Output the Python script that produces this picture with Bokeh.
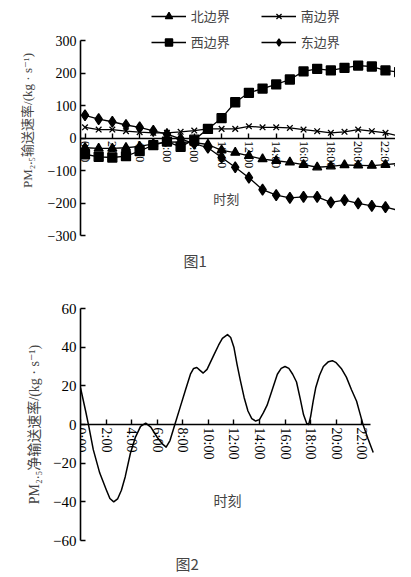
from bokeh.plotting import figure
from bokeh.models import Range1d, FixedTicker, Legend, LegendItem, Label, Title
from bokeh.layouts import column
from bokeh.embed import file_html
from bokeh.resources import INLINE

# ---------- Figure 1 data (hourly transport rates, kg/s) ----------
hours = [0, 1, 2, 3, 4, 5, 6, 7, 8, 9, 10, 11, 12, 13, 14, 15, 16, 17, 18, 19, 20, 21, 22, 23]
north = [-30, -32, -32, -30, -26, -18, -13, -12, -14, -20, -38, -45, -55, -65, -70, -75, -82, -90, -87, -83, -84, -85, -82, -78]
south = [33, 26, 26, 21, 18, 16, 16, 19, 23, 28, 28, 28, 36, 33, 33, 31, 26, 21, 16, 19, 26, 21, 16, 6]
west = [-50, -58, -60, -56, -40, -22, -11, -27, -5, 28, 61, 110, 139, 152, 165, 180, 205, 213, 208, 216, 223, 220, 208, 203]
east = [70, 58, 50, 40, 33, 22, 12, -3, -17, -30, -60, -90, -122, -159, -176, -184, -181, -181, -198, -191, -201, -209, -213, -223]
series_names = ["北边界", "南边界", "西边界", "东边界"]

fig1_yticks = [-300, -200, -100, 0, 100, 200, 300]
fig1_ytick_labels = ["−300", "−200", "−100", "0", "100", "200", "300"]
time_ticks = [0, 2, 4, 6, 8, 10, 12, 14, 16, 18, 20, 22]
time_tick_labels = ["0:00", "2:00", "4:00", "6:00", "8:00", "10:00", "12:00",
                    "14:00", "16:00", "18:00", "20:00", "22:00"]

# ---------- Figure 2 data (net transport rate) ----------
net_hours = [0, 0.4, 0.65, 1.0, 1.5, 2.0, 2.3, 2.6, 2.9, 3.2, 3.5, 3.9, 4.3, 4.7, 5.1, 5.5, 6.0,
             6.4, 6.7, 7.0, 7.4, 7.8, 8.2, 8.6, 8.85, 9.1, 9.35, 9.6, 9.9, 10.4, 10.8, 11.1,
             11.5, 11.75, 12.0, 12.25, 12.5, 12.8, 13.1, 13.4, 13.7, 14.0, 14.3, 14.6, 15.0,
             15.4, 15.7, 16.0, 16.3, 16.6, 16.9, 17.2, 17.45, 17.7, 17.85, 18.0, 18.2, 18.4,
             18.7, 19.0, 19.4, 19.7, 20.0, 20.4, 20.8, 21.2, 21.6, 21.85, 22.1, 22.5, 22.9]
net_values = [19, 7, -1, -13, -25, -33.5, -38.3, -40, -38.5, -34, -27, -15, -6.5, -1, 0.7, -1.4, -6.6,
              -10, -11.7, -8.3, 0.4, 9, 17.6, 26, 29, 29.5, 28, 26.6, 28.5, 35.5, 41, 44.5,
              46.5, 45, 40, 31, 23, 14, 7, 3, 1.8, 2.5, 6, 10, 18,
              26, 29, 30, 29, 26, 22, 13, 5, 0.5, 0, 4, 12, 19,
              25.5, 30, 32.5, 33, 32, 29, 24.5, 18, 12, 6, 0, -7.5, -14.5]
fig2_yticks = [-60, -40, -20, 0, 20, 40, 60]
fig2_ytick_labels = ["−60", "−40", "−20", "0", "20", "40", "60"]

SERIF = "Liberation Serif, DejaVu Serif, Noto Sans CJK SC"
CJK = "Noto Sans CJK SC"


def style_axes(p, xlab_size, ylab_size, xbounds, ybounds, yticks, ylabels, ylabel, ylabel_size, standoff):
    p.grid.visible = False
    p.outline_line_color = None
    p.background_fill_color = "white"
    xa = p.xaxis[0]
    xa.fixed_location = 0
    xa.ticker = FixedTicker(ticks=time_ticks)
    xa.major_label_overrides = dict(zip(time_ticks, time_tick_labels))
    xa.major_label_orientation = "vertical"
    xa.major_label_text_font = SERIF
    xa.major_label_text_font_size = xlab_size
    xa.major_label_standoff = 3
    xa.bounds = xbounds
    ya = p.yaxis[0]
    ya.ticker = FixedTicker(ticks=yticks)
    ya.major_label_overrides = dict(zip(yticks, ylabels))
    ya.major_label_text_font = SERIF
    ya.major_label_text_font_size = ylab_size
    ya.major_label_standoff = 4
    ya.bounds = ybounds
    ya.axis_label = ylabel
    ya.axis_label_text_font = SERIF
    ya.axis_label_text_font_style = "normal"
    ya.axis_label_text_font_size = ylabel_size
    ya.axis_label_standoff = standoff
    for ax in (xa, ya):
        ax.axis_line_width = 1.6
        ax.axis_line_color = "black"
        ax.major_tick_line_width = 1.4
        ax.major_tick_in = 5
        ax.major_tick_out = 0
        ax.minor_tick_line_color = None
        ax.major_label_text_color = "black"


# ---------------- Figure 1 ----------------
p1 = figure(frame_width=320, frame_height=230,
            x_range=Range1d(-0.33, 23.1), y_range=Range1d(-300, 407.7),
            output_backend="svg", toolbar_location=None,
            min_border_left=72, min_border_right=3, min_border_top=5, min_border_bottom=50)
style_axes(p1, "12px", "14px", (-0.33, 23.1), (-300, 300), fig1_yticks, fig1_ytick_labels,
           "PM₂.₅输送速率/(kg · s⁻¹)", "13px", 10)

markers = ["triangle", "x", "square", "diamond"]
sizes = [9, 8, 9, 11]
items = []
for name, vals, mk, sz in zip(series_names, [north, south, west, east], markers, sizes):
    ln = p1.line(hours, vals, line_color="black", line_width=1.3)
    sc = p1.scatter(hours, vals, marker=mk, size=sz, fill_color="black",
                    line_color="black", line_width=1.3)
    items.append(LegendItem(label=name, renderers=[ln, sc]))

legend = Legend(items=items, location=(83, 184), orientation="horizontal", ncols=2,
                glyph_width=35, glyph_height=18, label_height=18, label_width=63, label_standoff=5,
                spacing=7, padding=0, margin=0, border_line_color=None,
                background_fill_alpha=0, label_text_font=CJK, label_text_font_size="13px")
p1.add_layout(legend)

p1.add_layout(Label(x=10.35, y=-185, text="时刻", text_font=CJK, text_font_size="13px",
                    text_align="center", text_baseline="middle"))
p1.add_layout(Title(text="图1", align="left", offset=103, standoff=25, text_font=CJK,
                    text_font_size="15px", text_font_style="normal"), "below")

# ---------------- Figure 2 ----------------
p2 = figure(frame_width=294, frame_height=232,
            x_range=Range1d(0, 23), y_range=Range1d(-60, 60),
            output_backend="svg", toolbar_location=None,
            min_border_left=80, min_border_right=21, min_border_top=23, min_border_bottom=29)
style_axes(p2, "14px", "15px", (0, 22.65), (-60, 60), fig2_yticks, fig2_ytick_labels,
           "PM₂.₅净输送速率/(kg · s⁻¹)", "14px", 8)
p2.line(net_hours, net_values, line_color="black", line_width=1.5, line_join="round")
p2.add_layout(Label(x=11.5, y=-39, text="时刻", text_font=CJK, text_font_size="14px",
                    text_align="center", text_baseline="middle"))
p2.add_layout(Title(text="图2", align="left", offset=95, standoff=21, text_font=CJK,
                    text_font_size="15px", text_font_style="normal"), "below")

layout = column(p1, p2, spacing=0)
open("out.html", "w").write(file_html(layout, INLINE))
